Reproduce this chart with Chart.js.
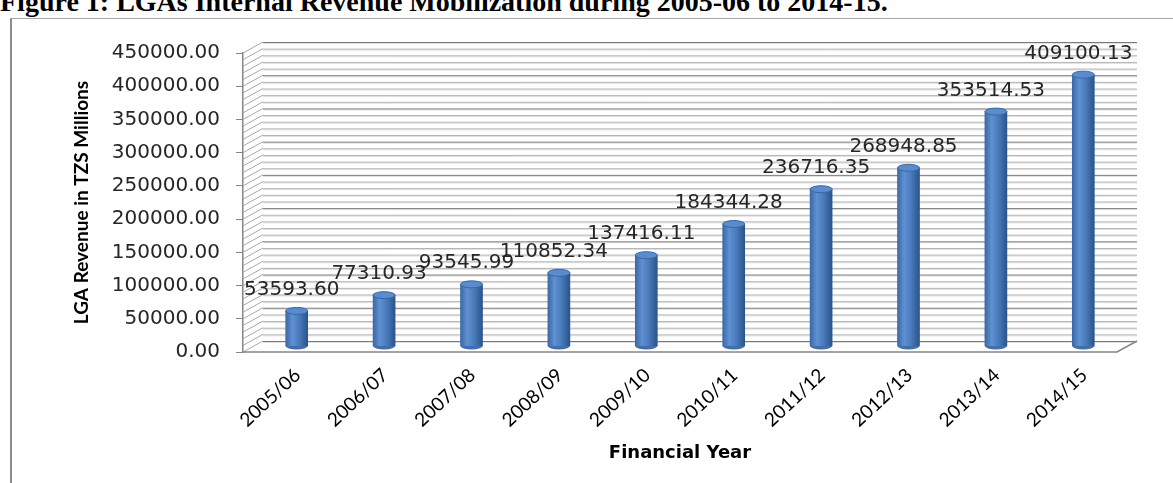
<!DOCTYPE html>
<html>
<head>
<meta charset="utf-8">
<script src="https://cdn.jsdelivr.net/npm/chart.js@4.4.1/dist/chart.umd.min.js"></script>
<style>
  html, body { margin: 0; padding: 0; background: #fff; overflow: hidden; }
  #title { position: absolute; left: 0; top: -12px; font: bold 28px/28px 'Liberation Serif', 'Times New Roman', serif; white-space: nowrap; color: #000; }
  #frame { position: absolute; left: 10px; top: 18px; width: 1300px; height: 600px; border-left: 2px solid #8c8c8c; border-top: 1px solid #a6a6a6; }
  #wrap { position: absolute; left: 0; top: 0; width: 1173px; height: 483px; }
</style>
</head>
<body>
<div id="title">Figure 1: LGAs Internal Revenue Mobilization during 2005-06 to 2014-15.</div>
<div id="frame"></div>
<div id="wrap"><canvas id="chart" width="1173" height="483"></canvas></div>
<script>
const years = ['2005/06', '2006/07', '2007/08', '2008/09', '2009/10', '2010/11', '2011/12', '2012/13', '2013/14', '2014/15'];
const revenue = [53593.60, 77310.93, 93545.99, 110852.34, 137416.11, 184344.28, 236716.35, 268948.85, 353514.53, 409100.13];
const yMax = 450000;
const yStep = 50000;
const yMinorStep = 10000;

// fake 3D depth of the Excel chart
const depthX = 20, depthY = -11;

function barFill(c) {
    const ch = c.chart;
    if (!ch.chartArea) return '#4f81bd';
    const x = ch.scales.x.getPixelForValue(c.dataIndex);
    const g = ch.ctx.createLinearGradient(x - 11, 0, x + 11, 0);
    g.addColorStop(0, '#3b68a6');
    g.addColorStop(0.3, '#5f90d2');
    g.addColorStop(0.6, '#4a7cbd');
    g.addColorStop(1, '#2b5489');
    return g;
}

const wallPlugin = {
    id: 'wall',
    beforeDatasetsDraw(chart) {
        const ctx = chart.ctx;
        const y = chart.scales.y;
        const {left, right, bottom} = chart.chartArea;
        ctx.save();
        for (let v = 0; v <= yMax; v += yMinorStep) {
            const py = y.getPixelForValue(v);
            const major = v % yStep === 0;
            // back wall line
            ctx.lineWidth = 1;
            ctx.strokeStyle = '#e0e0e0';
            ctx.beginPath();
            ctx.moveTo(left + depthX, py + depthY + 1.5);
            ctx.lineTo(right + depthX, py + depthY + 1.5);
            ctx.stroke();
            ctx.strokeStyle = major ? '#7a7a7a' : '#b4b4b4';
            ctx.beginPath();
            ctx.moveTo(left + depthX, py + depthY + 0.5);
            ctx.lineTo(right + depthX, py + depthY + 0.5);
            ctx.stroke();
            // side wall hatch
            ctx.strokeStyle = '#a8a8a8';
            ctx.beginPath();
            ctx.moveTo(left, py);
            ctx.lineTo(left + depthX, py + depthY);
            ctx.stroke();
        }
        // floor
        ctx.strokeStyle = '#868686';
        ctx.lineWidth = 1.5;
        ctx.beginPath();
        ctx.moveTo(left, bottom);
        ctx.lineTo(right, bottom);
        ctx.lineTo(right + depthX, bottom + depthY);
        ctx.stroke();
        ctx.restore();
        // bars sit half way into the depth
        ctx.save();
        ctx.translate(depthX / 2, depthY / 2);
    },
    afterDatasetsDraw(chart) {
        const ctx = chart.ctx;
        const bars = chart.getDatasetMeta(0).data;
        bars.forEach(b => {
            ctx.fillStyle = '#3f6fae';
            ctx.beginPath();
            ctx.ellipse(b.x, b.base, 11, 3.5, 0, 0, Math.PI);
            ctx.fill();
            ctx.fillStyle = '#5a8bcc';
            ctx.strokeStyle = '#3a67a3';
            ctx.lineWidth = 1;
            ctx.beginPath();
            ctx.ellipse(b.x, b.y, 11, 3.5, 0, 0, Math.PI * 2);
            ctx.fill();
            ctx.stroke();
        });
        ctx.restore();
        // value labels
        ctx.save();
        ctx.font = '20px "DejaVu Sans", Verdana, sans-serif';
        ctx.fillStyle = '#262626';
        ctx.textAlign = 'center';
        ctx.textBaseline = 'alphabetic';
        bars.forEach((b, i) => {
            ctx.fillText(revenue[i].toFixed(2), b.x + depthX / 2 - 5, b.y + depthY / 2 - 16);
        });
        ctx.restore();
    }
};

new Chart(document.getElementById('chart'), {
    type: 'bar',
    data: {
        labels: years,
        datasets: [{
            data: revenue,
            backgroundColor: barFill,
            borderWidth: 0,
            barThickness: 22,
            clip: false
        }]
    },
    options: {
        responsive: false,
        animation: false,
        layout: { padding: { top: 53, right: 56, left: 0, bottom: 0 } },
        plugins: {
            legend: { display: false },
            tooltip: { enabled: false }
        },
        scales: {
            x: {
                grid: { display: false, drawTicks: false },
                border: { display: false },
                ticks: {
                    color: '#000',
                    font: { family: 'Lato', size: 19 },
                    minRotation: 43,
                    maxRotation: 43,
                    labelOffset: 11,
                    padding: 12
                },
                title: {
                    display: true,
                    text: 'Financial Year',
                    color: '#000',
                    font: { family: 'DejaVu Sans', size: 18, weight: 'bold' },
                    padding: { top: 19, bottom: 19 }
                },
                afterFit(s) { s.height = 131; }
            },
            y: {
                min: 0,
                max: yMax,
                grid: { drawOnChartArea: false, drawTicks: true, tickLength: 7, color: '#868686' },
                border: { display: true, color: '#868686', width: 1.5 },
                ticks: {
                    stepSize: yStep,
                    color: '#262626',
                    font: { family: 'DejaVu Sans', size: 20 },
                    padding: 16,
                    callback: v => Number(v).toFixed(2)
                },
                title: {
                    display: true,
                    text: 'LGA Revenue in TZS Millions',
                    color: '#000',
                    font: { family: 'Lato', size: 19, weight: 'bold' },
                    padding: { top: 70, bottom: 70 }
                },
                afterFit(s) { s.width = 243; }
            }
        }
    },
    plugins: [wallPlugin]
});
</script>
</body>
</html>
